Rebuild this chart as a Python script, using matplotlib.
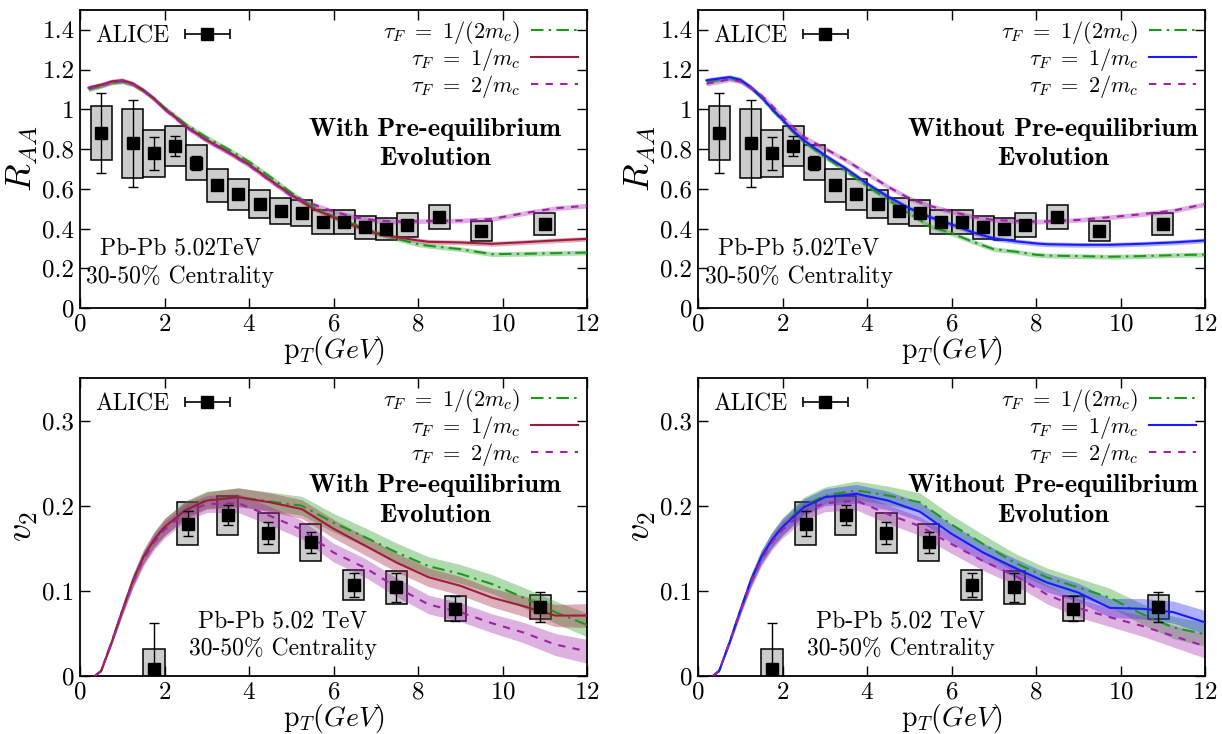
import numpy as np
import matplotlib
matplotlib.use("Agg")
import matplotlib.pyplot as plt
from matplotlib.ticker import FormatStrFormatter, MultipleLocator
from matplotlib.legend_handler import HandlerErrorbar

plt.rcParams['font.family'] = 'serif'
plt.rcParams['font.serif'] = ['cmr10', 'DejaVu Serif']
plt.rcParams['mathtext.fontset'] = 'cm'
plt.rcParams['axes.formatter.use_mathtext'] = True

# ALICE D-meson data (shared by both columns)
raa_data_pt = [0.5, 1.25, 1.75, 2.25, 2.75, 3.25, 3.75, 4.25, 4.75, 5.25, 5.75, 6.25, 6.75, 7.25, 7.75, 8.5, 9.5, 11.0]
raa_data = [0.881, 0.828, 0.778, 0.815, 0.731, 0.617, 0.572, 0.522, 0.488, 0.477, 0.433, 0.433, 0.406, 0.396, 0.416, 0.458, 0.388, 0.423]
raa_stat = [0.203, 0.221, 0.085, 0.05, 0.035, 0.012, 0.01, 0.01, 0.01, 0.01, 0.01, 0.01, 0.01, 0.01, 0.01, 0.01, 0.01, 0.01]
raa_sys = [0.134, 0.175, 0.119, 0.10, 0.088, 0.082, 0.077, 0.071, 0.067, 0.065, 0.06, 0.06, 0.058, 0.055, 0.06, 0.061, 0.05, 0.056]

v2_data_pt = [1.75, 2.55, 3.5, 4.46, 5.46, 6.48, 7.49, 8.88, 10.89]
v2_data = [0.008, 0.179, 0.189, 0.168, 0.157, 0.107, 0.104, 0.079, 0.081]
v2_stat = [0.054, 0.015, 0.012, 0.0125, 0.012, 0.0145, 0.0165, 0.0145, 0.018]
v2_sys = [0.024, 0.0255, 0.023, 0.0235, 0.022, 0.018, 0.019, 0.0145, 0.0145]

# model curves, R_AA
raa_pt = [0.2, 0.5, 0.75, 1.0, 1.25, 1.5, 1.75, 2.0, 2.25, 2.5, 3.0, 3.5, 4.0, 4.5, 5.0, 5.5,
          6.0, 6.5, 7.0, 7.5, 8.0, 8.25, 9.0, 9.75, 10.5, 11.25, 12.0]
raa_pre_half = [1.10, 1.118, 1.135, 1.14, 1.125, 1.095, 1.055, 1.008, 0.968, 0.925, 0.858, 0.80, 0.736, 0.66,
                0.58, 0.51, 0.46, 0.42, 0.38, 0.348, 0.321, 0.313, 0.296, 0.271, 0.273, 0.276, 0.279]
raa_pre_one = [1.109, 1.124, 1.14, 1.146, 1.129, 1.096, 1.054, 1.003, 0.962, 0.915, 0.845, 0.786, 0.722, 0.644,
               0.569, 0.502, 0.457, 0.413, 0.376, 0.356, 0.34, 0.333, 0.330, 0.323, 0.331, 0.34, 0.348]
raa_pre_two = [1.106, 1.12, 1.138, 1.144, 1.128, 1.094, 1.052, 1.0, 0.958, 0.912, 0.842, 0.783, 0.718, 0.64,
               0.564, 0.523, 0.485, 0.457, 0.44, 0.435, 0.437, 0.438, 0.44, 0.448, 0.477, 0.502, 0.515]
raa_nopre_half = [1.14, 1.15, 1.158, 1.146, 1.108, 1.058, 0.998, 0.942, 0.886, 0.838, 0.76, 0.69, 0.615, 0.544,
                  0.477, 0.41, 0.376, 0.334, 0.296, 0.284, 0.268, 0.264, 0.261, 0.258, 0.261, 0.266, 0.269]
raa_nopre_one = [1.146, 1.155, 1.162, 1.149, 1.112, 1.062, 1.003, 0.948, 0.891, 0.845, 0.769, 0.702, 0.627, 0.56,
                 0.502, 0.457, 0.421, 0.381, 0.35, 0.336, 0.325, 0.321, 0.318, 0.318, 0.323, 0.33, 0.34]
raa_nopre_two = [1.129, 1.14, 1.152, 1.14, 1.108, 1.07, 1.018, 0.962, 0.91, 0.861, 0.803, 0.744, 0.677, 0.61,
                 0.552, 0.513, 0.485, 0.46, 0.443, 0.438, 0.435, 0.436, 0.443, 0.457, 0.472, 0.49, 0.523]

# model curves, v2
v2_pt = [0.35, 0.5, 0.75, 1.0, 1.25, 1.5, 1.75, 2.0, 2.5, 3.0, 3.75, 4.5, 5.25, 6.0, 6.75, 7.5,
         8.25, 9.0, 9.75, 10.5, 11.25, 12.0]
v2_pre_half = [0.0, 0.006, 0.04, 0.077, 0.112, 0.14, 0.16, 0.175, 0.196, 0.207, 0.21, 0.205, 0.2, 0.18,
               0.163, 0.145, 0.129, 0.12, 0.108, 0.092, 0.075, 0.06]
v2_pre_one = [0.0, 0.006, 0.04, 0.077, 0.112, 0.14, 0.16, 0.175, 0.195, 0.206, 0.21, 0.204, 0.196, 0.173,
              0.153, 0.133, 0.116, 0.106, 0.092, 0.082, 0.071, 0.071]
v2_pre_two = [0.0, 0.006, 0.04, 0.076, 0.11, 0.137, 0.157, 0.172, 0.192, 0.202, 0.203, 0.188, 0.172, 0.145,
              0.127, 0.104, 0.084, 0.075, 0.062, 0.051, 0.037, 0.029]
v2_nopre_half = [0.0, 0.006, 0.04, 0.077, 0.112, 0.14, 0.16, 0.176, 0.2, 0.212, 0.218, 0.212, 0.204, 0.178,
                 0.155, 0.133, 0.116, 0.104, 0.092, 0.073, 0.057, 0.049]
v2_nopre_one = [0.0, 0.006, 0.04, 0.077, 0.112, 0.14, 0.16, 0.175, 0.198, 0.21, 0.214, 0.206, 0.193, 0.167,
                0.145, 0.127, 0.11, 0.098, 0.08, 0.079, 0.075, 0.063]
v2_nopre_two = [0.0, 0.006, 0.04, 0.076, 0.11, 0.137, 0.157, 0.172, 0.193, 0.203, 0.206, 0.19, 0.176, 0.155,
                0.135, 0.118, 0.096, 0.08, 0.069, 0.059, 0.047, 0.035]

# band half widths
raa_band = [0.012] * len(raa_pt)
v2_band = [0.0, 0.001, 0.003, 0.005, 0.007, 0.008, 0.009, 0.01, 0.01, 0.01, 0.011, 0.011, 0.011, 0.011,
           0.011, 0.011, 0.011, 0.011, 0.011, 0.012, 0.013, 0.014]

labels = [r'$\tau_F\ =\ 1/(2m_c)$', r'$\tau_F\ =\ 1/m_c$', r'$\tau_F\ =\ 2/m_c$']
GREEN = '#1a9a1a'
RED = '#a01c3c'
PURPLE = '#a020a8'
BLUE = '#1a1aff'

fig = plt.figure(figsize=(12.22, 7.34), dpi=100)
ax_tl = fig.add_axes([0.0655, 0.5804, 0.4149, 0.406])
ax_tr = fig.add_axes([0.5712, 0.5804, 0.4149, 0.406])
ax_bl = fig.add_axes([0.0655, 0.079, 0.4149, 0.406])
ax_br = fig.add_axes([0.5712, 0.079, 0.4149, 0.406])


def draw_panel(ax, dpt, dval, dstat, dsys, pt, curves, band, mid_color, ylim, ystep, ylabel,
               title, sys_lbl, title_y, sys_xy):
    # systematic boxes
    ax.bar(dpt, 2 * np.array(dsys), bottom=np.array(dval) - np.array(dsys), width=0.5,
           color='#cccccc', edgecolor='black', linewidth=1.1, zorder=1)
    colors = [GREEN, mid_color, PURPLE]
    styles = [(0, (6, 2.5, 1.2, 2.5)), '-', (0, (3.5, 3.5))]
    band = np.array(band)
    handles = []
    for vals, c, ls, lab in zip(curves, colors, styles, labels):
        vals = np.array(vals)
        ax.fill_between(pt, vals - band, vals + band, color=c, alpha=0.35, lw=0, zorder=2)
        h, = ax.plot(pt, vals, color=c, ls=ls, lw=1.5, label=lab, zorder=3)
        handles.append(h)
    ax.errorbar(dpt, dval, yerr=dstat, fmt='s', color='black', ms=8.5, capsize=3.5,
                elinewidth=1.0, capthick=1.0, zorder=5)
    proxy = ax.errorbar([np.nan], [np.nan], xerr=[1], fmt='s', color='black', ms=8.5,
                        capsize=3.5, elinewidth=1.2, capthick=1.2)

    ax.set_xlim(0, 12)
    ax.set_ylim(*ylim)
    ax.xaxis.set_major_locator(MultipleLocator(2))
    ax.yaxis.set_major_locator(MultipleLocator(ystep))
    ax.yaxis.set_major_formatter(FormatStrFormatter('%g'))
    ax.tick_params(direction='in', top=True, right=True, length=7, width=1.0, labelsize=18, pad=4)
    for s in ax.spines.values():
        s.set_linewidth(1.3)
    ax.set_xlabel(r'$\mathrm{p}_T(GeV)$', fontsize=20, labelpad=-1)
    ax.set_ylabel(ylabel, fontsize=26, labelpad=2)

    leg1 = ax.legend([proxy], ['ALICE'], loc='upper left', markerfirst=False, frameon=False,
                     fontsize=17, handlelength=2.2, borderaxespad=0.45, borderpad=0.2, handletextpad=0.5,
                     handler_map={type(proxy): HandlerErrorbar(xerr_size=0.95)})
    ax.add_artist(leg1)
    ax.legend(handles=handles, loc='upper right', markerfirst=False, frameon=False, fontsize=16,
              handlelength=2.1, labelspacing=0.0, borderaxespad=0.2, borderpad=0.2, handletextpad=0.5)

    ax.text(8.4, title_y, title, family='cmb10', fontsize=19, ha='center', va='center',
            linespacing=1.35, zorder=6)
    ax.text(sys_xy[0], sys_xy[1], sys_lbl, fontsize=17, ha='center', va='center', linespacing=1.3, zorder=6)


draw_panel(ax_tl, raa_data_pt, raa_data, raa_stat, raa_sys, raa_pt,
           [raa_pre_half, raa_pre_one, raa_pre_two], raa_band, RED, (0, 1.5), 0.2, r'$R_{AA}$',
           'With Pre-equilibrium\nEvolution', 'Pb-Pb 5.02TeV\n30-50% Centrality', 0.824, (2.37, 0.227))
draw_panel(ax_tr, raa_data_pt, raa_data, raa_stat, raa_sys, raa_pt,
           [raa_nopre_half, raa_nopre_one, raa_nopre_two], raa_band, BLUE, (0, 1.5), 0.2, r'$R_{AA}$',
           'Without Pre-equilibrium\nEvolution', 'Pb-Pb 5.02TeV\n30-50% Centrality', 0.824, (2.39, 0.227))
draw_panel(ax_bl, v2_data_pt, v2_data, v2_stat, v2_sys, v2_pt,
           [v2_pre_half, v2_pre_one, v2_pre_two], v2_band, RED, (0, 0.35), 0.1, r'$v_2$',
           'With Pre-equilibrium\nEvolution', 'Pb-Pb 5.02 TeV\n30-50% Centrality', 0.206, (4.8, 0.048))
draw_panel(ax_br, v2_data_pt, v2_data, v2_stat, v2_sys, v2_pt,
           [v2_nopre_half, v2_nopre_one, v2_nopre_two], v2_band, BLUE, (0, 0.35), 0.1, r'$v_2$',
           'Without Pre-equilibrium\nEvolution', 'Pb-Pb 5.02 TeV\n30-50% Centrality', 0.206, (4.8, 0.048))

fig.savefig('out.png', dpi=100)
